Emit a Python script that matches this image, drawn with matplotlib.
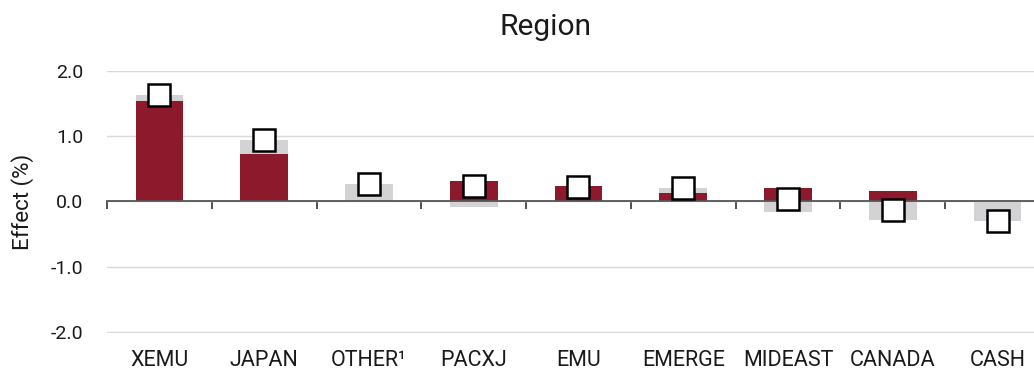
import matplotlib
matplotlib.use("Agg")
import matplotlib.pyplot as plt
import numpy as np

plt.rcParams['font.family'] = ['Roboto', 'DejaVu Sans']

categories = ["XEMU", "JAPAN", "OTHER\u00b9", "PACXJ", "EMU", "EMERGE", "MIDEAST", "CANADA", "CASH"]
allocation = [1.54, 0.73, 0.00, 0.31, 0.23, 0.13, 0.20, 0.16, 0.00]
selection = [0.09, 0.21, 0.27, -0.08, -0.01, 0.08, -0.16, -0.29, -0.30]
total = [1.63, 0.94, 0.26, 0.23, 0.22, 0.21, 0.04, -0.13, -0.30]
yticks = [-2.0, -1.0, 0.0, 1.0, 2.0]

W, H = 1034, 371
fig = plt.figure(figsize=(W / 100, H / 100), dpi=100)
ax = fig.add_axes([107 / W, (H - 333.3) / H, (1034 - 107) / W, (333.3 - 70.7) / H])

x = np.arange(len(categories))
alloc = np.array(allocation)
sel = np.array(selection)
# stack selection on allocation when same sign, else from zero
bottom = np.where(np.sign(sel) == np.sign(alloc), alloc, 0.0)

red = "#8c1a2c"
grey = "#d3d3d5"
bw = 0.455
ax.bar(x, sel, width=bw, bottom=bottom, color=grey, zorder=2)
ax.bar(x, alloc, width=bw, color=red, zorder=3)
ax.plot(x, total, linestyle="none", marker="s", markersize=15.5,
        markerfacecolor="white", markeredgecolor="black", markeredgewidth=1.8, zorder=5)

ax.set_yticks(yticks)
ax.set_yticklabels([f"{v:.1f}" for v in yticks])
ax.yaxis.grid(True, color="#d9d9d9", linewidth=1.0, zorder=0)
ax.set_axisbelow(True)
ax.tick_params(axis="y", length=0, labelsize=14, pad=17, colors="#1a1a1a")

for s in ["top", "right", "left"]:
    ax.spines[s].set_visible(False)
ax.spines["bottom"].set_position(("data", 0))
ax.spines["bottom"].set_color("#555555")
ax.spines["bottom"].set_linewidth(1.3)
ax.spines["bottom"].set_zorder(4)
ax.set_xticks(np.arange(len(categories) + 1) - 0.5)
ax.set_xticklabels([])
ax.tick_params(axis="x", length=6, width=1.2, color="#333333", direction="out")

ax.set_ylim(-2.02, 2.0)

sec = ax.secondary_xaxis(0.0)
sec.set_xticks(x)
sec.set_xticklabels(categories)
sec.tick_params(length=0, labelsize=15.5, pad=12, colors="#1a1a1a")
sec.spines["bottom"].set_visible(False)
ax.set_xlim(-0.5, 8.5 - (1050 - 1034) / 104.8)

ax.set_ylabel("Effect (%)", fontsize=16, color="#1a1a1a")
ax.yaxis.set_label_coords(-(107 - 34) / (1034 - 107), 0.5)

fig.text(545.5 / W, (H - 27) / H, "Region", ha="center", va="center", fontsize=21.5, color="#1a1a1a")

fig.savefig("out.png", dpi=100)
